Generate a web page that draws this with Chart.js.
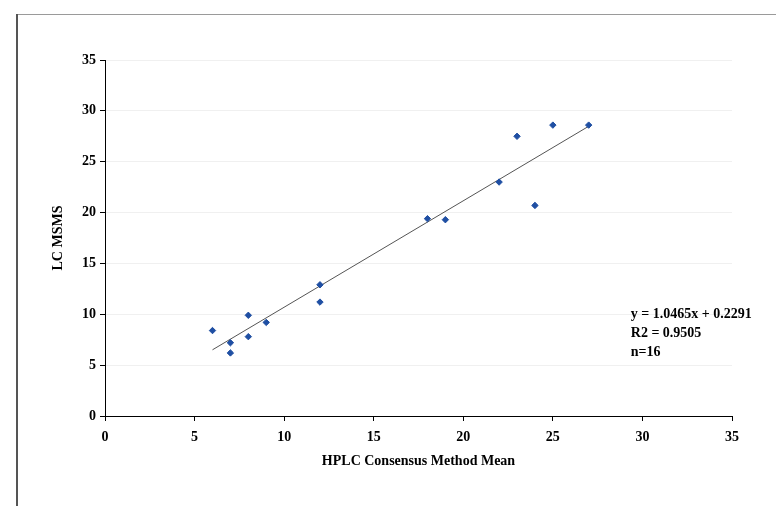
<!DOCTYPE html>
<html>
<head>
<meta charset="utf-8">
<script src="https://cdn.jsdelivr.net/npm/chart.js@4.4.0/dist/chart.umd.min.js"></script>
<style>
  html, body { margin: 0; padding: 0; background: #fff; }
  #wrap { width: 776px; height: 506px; }
</style>
</head>
<body>
<div id="wrap"><canvas id="c" width="776" height="506"></canvas></div>
<script>
// ---- data ----
const hplcMean = [6, 7, 7, 8, 8, 9, 12, 12, 18, 19, 22, 23, 24, 25, 27];
const lcMsms   = [8.4, 7.2, 6.2, 9.9, 7.8, 9.2, 12.9, 11.2, 19.4, 19.3, 23.0, 27.5, 20.7, 28.6, 28.6];
const xTicks = [0, 5, 10, 15, 20, 25, 30, 35];
const yTicks = [0, 5, 10, 15, 20, 25, 30, 35];
const trendSlope = 1.0465;
const trendIntercept = 0.2291;
const trendRange = [6, 27];
const annotationLines = ["y = 1.0465x + 0.2291", "R2 = 0.9505", "n=16"];
const xTitle = "HPLC Consensus Method Mean";
const yTitle = "LC MSMS";

const points = hplcMean.map((x, i) => ({ x: x, y: lcMsms[i] }));
const trend = trendRange.map(x => ({ x: x, y: trendSlope * x + trendIntercept }));

const FONT = "'Liberation Serif', 'Times New Roman', serif";

const framePlugin = {
  id: 'frame',
  beforeDraw(chart) {
    const ctx = chart.ctx;
    ctx.save();
    ctx.fillStyle = '#ffffff';
    ctx.fillRect(0, 0, chart.width, chart.height);
    ctx.strokeStyle = '#9a9a9a';
    ctx.lineWidth = 1;
    ctx.beginPath();
    ctx.moveTo(16, 14.5);
    ctx.lineTo(chart.width, 14.5);
    ctx.stroke();
    ctx.strokeStyle = '#555555';
    ctx.lineWidth = 2;
    ctx.beginPath();
    ctx.moveTo(17, 14);
    ctx.lineTo(17, chart.height);
    ctx.stroke();
    ctx.restore();
  }
};

const annotationPlugin = {
  id: 'eqn',
  afterDraw(chart) {
    const ctx = chart.ctx;
    const xs = chart.scales.x, ys = chart.scales.y;
    ctx.save();
    ctx.fillStyle = '#000';
    ctx.font = "bold 14px " + FONT;
    ctx.textBaseline = 'middle';
    ctx.textAlign = 'left';
    const x0 = xs.getPixelForValue(29.35);
    const y0 = ys.getPixelForValue(10.0);
    annotationLines.forEach((t, i) => ctx.fillText(t, x0, y0 + i * 19));
    ctx.restore();
  }
};

new Chart(document.getElementById('c'), {
  type: 'scatter',
  data: {
    datasets: [
      {
        label: 'data',
        data: points,
        pointStyle: 'rectRot',
        pointRadius: 3.2,
        pointBackgroundColor: '#1f4fa3',
        pointBorderColor: '#1f4fa3',
        pointBorderWidth: 1,
        showLine: false,
        order: 1
      },
      {
        label: 'trend',
        data: trend,
        showLine: true,
        pointRadius: 0,
        borderColor: '#555555',
        borderWidth: 1,
        fill: false,
        order: 2
      }
    ]
  },
  options: {
    responsive: false,
    animation: false,
    devicePixelRatio: 1,
    layout: { padding: { left: 0, right: 44, top: 60, bottom: 36 } },
    plugins: {
      legend: { display: false },
      tooltip: { enabled: false },
      title: { display: false }
    },
    scales: {
      x: {
        type: 'linear',
        min: 0, max: 35,
        afterBuildTicks(scale) { scale.ticks = xTicks.map(v => ({ value: v })); },
        afterFit(scale) { scale.height = 54; },
        grid: { drawOnChartArea: false, tickLength: 5, tickColor: '#000', tickWidth: 1 },
        border: { display: true, color: '#000', width: 1 },
        ticks: { color: '#000', padding: 8, font: { family: FONT, size: 14, weight: 'bold' }, maxRotation: 0 },
        title: { display: true, text: xTitle, color: '#000', padding: { top: 0, bottom: 0 },
                 font: { family: FONT, size: 14, weight: 'bold' } }
      },
      y: {
        type: 'linear',
        min: 0, max: 35,
        afterBuildTicks(scale) { scale.ticks = yTicks.map(v => ({ value: v })); },
        afterFit(scale) { scale.width = 105; },
        grid: {
          drawOnChartArea: true,
          color: ctx => (ctx.tick && ctx.tick.value === 0) ? 'rgba(0,0,0,0)' : '#f0f0f0',
          tickLength: 5, tickColor: '#000', tickWidth: 1
        },
        border: { display: true, color: '#000', width: 1 },
        ticks: { color: '#000', padding: 4, font: { family: FONT, size: 14, weight: 'bold' } },
        title: { display: true, text: yTitle, color: '#000', padding: { top: 50, bottom: 0 },
                 font: { family: FONT, size: 14, weight: 'bold' } }
      }
    }
  },
  plugins: [framePlugin, annotationPlugin]
});
</script>
</body>
</html>
